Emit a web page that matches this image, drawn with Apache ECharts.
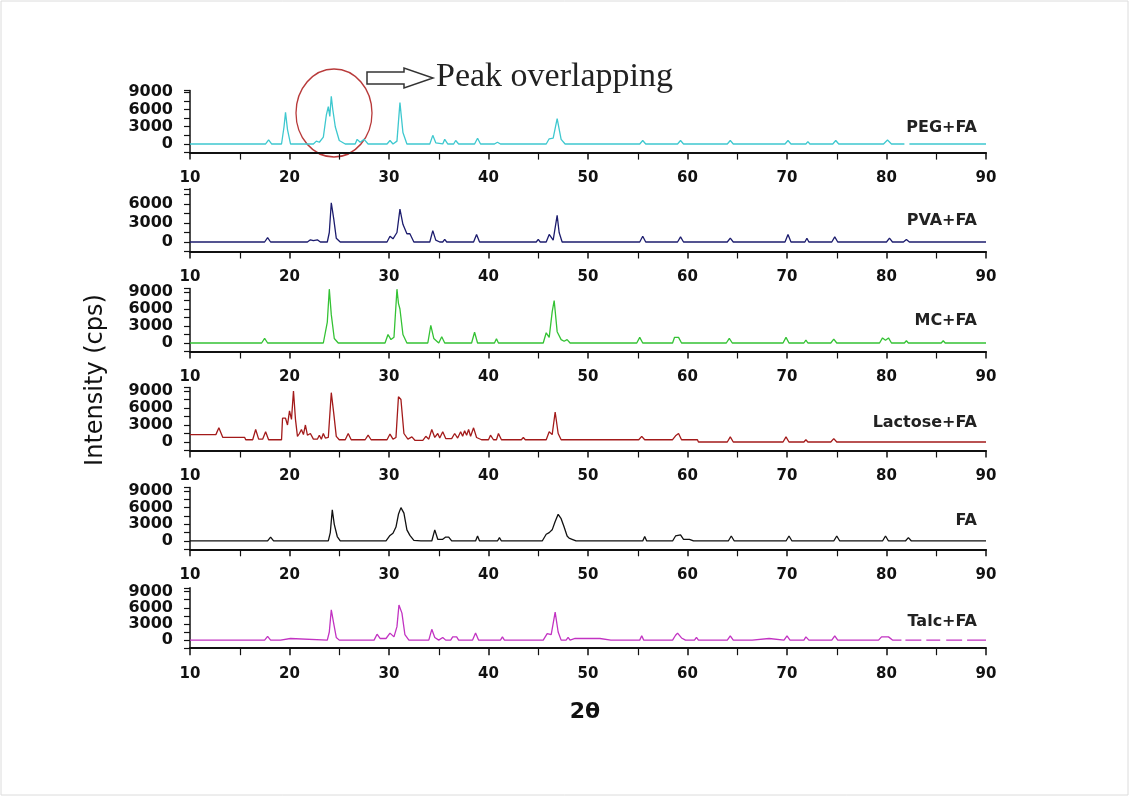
<!DOCTYPE html>
<html>
<head>
<meta charset="utf-8">
<script src="https://cdn.jsdelivr.net/npm/echarts@6/dist/echarts.min.js"></script>
<style>
html,body{margin:0;padding:0;background:#fff;}
#chart{width:1129px;height:796px;}
</style>
</head>
<body>
<div id="chart"></div>
<script>
// ---- data: [2theta, intensity (cps)] ----
const seriesNames = ['PEG+FA', 'PVA+FA', 'MC+FA', 'Lactose+FA', 'FA', 'Talc+FA'];
const xTicks = [10, 20, 30, 40, 50, 60, 70, 80, 90];
const yTickLabels = [0, 3000, 6000, 9000];

const pegFA = [[10,0],[17.6,0],[17.9,700],[18.2,0],[19.2,0],[19.45,3000],[19.6,5500],[19.8,2500],[20.1,0],[22.4,0],[22.7,500],[23.0,300],[23.4,1200],[23.7,5000],[23.9,6500],[24.05,4800],[24.2,8300],[24.35,6000],[24.6,3000],[25.0,600],[25.6,0],[26.6,0],[26.8,800],[27.1,300],[27.5,800],[27.9,0],[29.8,0],[30.1,600],[30.4,0],[30.8,500],[31.1,7200],[31.4,2000],[31.8,0],[34.1,0],[34.4,1500],[34.7,200],[35.4,0],[35.6,800],[35.9,0],[36.5,0],[36.7,600],[37.0,0],[38.6,0],[38.9,1000],[39.2,0],[40.1,0],[40.3,300],[40.6,0],[40.9,300],[41.2,0],[45.8,0],[46.1,900],[46.5,1000],[46.9,4400],[47.3,800],[47.7,0],[55.2,0],[55.5,600],[55.8,0],[59.0,0],[59.3,600],[59.6,0],[64.0,0],[64.3,600],[64.6,0],[69.8,0],[70.1,600],[70.4,0],[71.9,0],[72.1,400],[72.3,0],[74.6,0],[74.9,600],[75.2,0],[79.7,0],[80.1,700],[80.5,0],[81.8,0],[82.0,null],[82.3,0],[90,0]];

const pvaFA = [[10,0],[17.5,0],[17.8,700],[18.1,0],[21.8,0],[22.1,350],[22.4,200],[22.8,350],[23.1,0],[23.8,0],[24.0,1500],[24.2,6200],[24.45,3600],[24.7,600],[25.1,0],[29.8,0],[30.1,900],[30.4,500],[30.8,1500],[31.1,5200],[31.4,2800],[31.8,1300],[32.1,1300],[32.5,0],[34.1,0],[34.4,1800],[34.7,300],[35.1,0],[35.4,0],[35.6,400],[35.8,0],[37.0,0],[37.2,300],[37.4,0],[38.5,0],[38.8,1200],[39.1,0],[40.8,0],[41.0,300],[41.2,0],[44.8,0],[45.0,400],[45.2,0],[45.8,0],[46.1,1200],[46.5,300],[46.9,4200],[47.1,1500],[47.4,0],[55.2,0],[55.5,900],[55.8,0],[59.0,0],[59.3,800],[59.6,0],[59.9,0],[60.1,300],[60.3,0],[64.0,0],[64.3,600],[64.6,0],[69.8,0],[70.1,1200],[70.4,0],[71.8,0],[72.0,600],[72.2,0],[74.5,0],[74.8,800],[75.1,0],[80.0,0],[80.3,600],[80.6,0],[81.7,0],[82.0,400],[82.3,0],[85.5,0],[85.7,300],[85.9,0],[90,0]];

const mcFA = [[10,0],[17.2,0],[17.5,800],[17.8,0],[23.4,0],[23.8,3700],[24.0,9500],[24.2,5000],[24.5,800],[24.9,0],[29.6,0],[29.9,1500],[30.2,600],[30.5,1000],[30.8,9500],[30.95,7000],[31.1,6000],[31.4,1500],[31.8,0],[33.9,0],[34.2,3100],[34.5,800],[35.0,0],[35.3,1100],[35.6,0],[38.3,0],[38.6,1900],[38.9,0],[40.6,0],[40.8,750],[41.0,0],[45.5,0],[45.8,1800],[46.1,1000],[46.4,5500],[46.6,7500],[46.9,2000],[47.3,600],[47.6,300],[47.9,600],[48.2,0],[49.0,0],[49.2,300],[49.4,0],[54.9,0],[55.2,1000],[55.5,0],[58.5,0],[58.7,1000],[58.9,700],[59.1,1000],[59.4,0],[59.9,0],[60.1,300],[60.3,0],[63.9,0],[64.2,800],[64.5,0],[69.6,0],[69.9,1000],[70.2,0],[71.7,0],[71.9,500],[72.1,0],[74.4,0],[74.7,700],[75.0,0],[79.3,0],[79.6,900],[79.9,500],[80.2,900],[80.5,0],[81.8,0],[82.0,400],[82.2,0],[85.5,0],[85.7,400],[85.9,0],[90,0]];

const lactoseFA = [[10,1300],[12.6,1300],[12.9,2500],[13.3,800],[15.5,800],[15.6,400],[16.3,400],[16.6,2200],[16.9,500],[17.3,500],[17.6,1800],[17.9,400],[19.2,400],[19.3,4200],[19.6,4200],[19.8,3000],[20.0,5500],[20.2,4000],[20.4,9000],[20.6,4000],[20.8,1000],[21.0,1500],[21.2,2200],[21.4,1300],[21.6,3000],[21.8,1200],[22.1,1500],[22.4,500],[22.8,500],[23.0,1200],[23.2,500],[23.4,1500],[23.6,700],[23.9,800],[24.2,8700],[24.45,5000],[24.7,1000],[25.0,400],[25.6,400],[25.9,1500],[26.2,400],[27.6,400],[27.9,1200],[28.2,400],[29.8,400],[30.1,1400],[30.4,500],[30.7,800],[30.95,8000],[31.2,7500],[31.5,1500],[31.9,500],[32.3,900],[32.6,300],[33.4,300],[33.7,1000],[34.0,500],[34.3,2200],[34.6,800],[34.9,1500],[35.1,700],[35.4,1800],[35.7,600],[36.3,600],[36.6,1500],[36.9,700],[37.2,1800],[37.4,1000],[37.6,2000],[37.8,1200],[38.0,2200],[38.2,1000],[38.5,2500],[38.8,800],[39.3,400],[40.0,400],[40.2,1200],[40.5,400],[40.8,400],[41.0,1500],[41.3,400],[43.3,400],[43.5,800],[43.7,400],[45.8,400],[46.1,1800],[46.4,1300],[46.7,5300],[47.0,1500],[47.3,400],[50.5,400],[50.7,700],[50.9,400],[52.2,400],[52.4,700],[52.6,400],[55.1,400],[55.4,1000],[55.7,400],[58.5,400],[58.8,1100],[58.95,800],[59.1,1500],[59.4,400],[61.0,400],[61.1,0],[64.0,0],[64.3,900],[64.6,0],[69.6,0],[69.9,900],[70.2,0],[71.7,0],[71.9,400],[72.1,0],[74.4,0],[74.7,600],[75.0,0],[76.8,0],[77.0,200],[77.2,0],[79.8,0],[80.0,300],[80.2,0],[81.8,0],[82.0,300],[82.2,0],[85.5,0],[85.7,200],[85.9,0],[90,0]];

const fa = [[10,0],[17.8,0],[18.1,700],[18.4,0],[23.9,0],[24.1,1500],[24.3,5600],[24.5,3000],[24.8,800],[25.1,0],[26.4,0],[26.6,300],[26.8,0],[29.7,0],[30.1,1000],[30.4,1400],[30.7,2500],[30.95,4800],[31.2,6000],[31.5,5000],[31.8,2000],[32.1,1000],[32.5,100],[33.2,0],[34.3,0],[34.6,2000],[34.9,300],[35.4,300],[35.7,700],[36.0,700],[36.3,0],[38.7,0],[38.9,900],[39.1,0],[40.9,0],[41.1,600],[41.3,0],[45.4,0],[45.8,1200],[46.1,1500],[46.4,2000],[46.7,3500],[47.0,4800],[47.3,4000],[47.6,2500],[47.9,900],[48.1,500],[48.4,300],[48.6,300],[48.8,0],[54.3,0],[54.5,200],[54.7,0],[55.5,0],[55.7,800],[55.9,0],[58.5,0],[58.8,900],[59.0,800],[59.3,1100],[59.6,300],[60.2,300],[60.4,300],[60.6,0],[64.1,0],[64.4,900],[64.7,0],[69.9,0],[70.2,900],[70.5,0],[71.8,0],[72.0,300],[72.2,0],[74.7,0],[75.0,900],[75.3,0],[79.6,0],[79.9,900],[80.2,0],[81.9,0],[82.2,600],[82.5,0],[85.8,0],[86.0,300],[86.2,0],[90,0]];

const talcFA = [[10,0],[17.5,0],[17.8,700],[18.1,0],[19.1,0],[19.3,300],[20.1,300],[20.3,0],[23.8,0],[24.0,1500],[24.2,5600],[24.45,3000],[24.7,500],[25.0,0],[26.9,0],[27.1,300],[27.4,0],[28.5,0],[28.8,1100],[29.1,300],[29.7,300],[30.1,1300],[30.5,600],[30.8,2500],[31.0,6500],[31.3,5000],[31.6,1000],[32.0,0],[34.0,0],[34.3,2000],[34.6,500],[35.0,0],[35.4,500],[35.7,0],[36.2,0],[36.4,600],[36.8,600],[37.0,0],[38.4,0],[38.7,1300],[39.0,0],[41.2,0],[41.4,600],[41.6,0],[43.2,0],[43.4,300],[43.6,0],[45.5,0],[45.9,1200],[46.3,1000],[46.7,5200],[47.0,1500],[47.3,0],[47.8,0],[48.0,500],[48.2,0],[48.7,300],[49.4,300],[49.6,0],[50.5,300],[51.2,300],[51.4,0],[52.3,0],[52.5,200],[52.7,0],[55.2,0],[55.4,800],[55.6,0],[58.5,0],[58.8,900],[59.0,1300],[59.4,400],[59.8,0],[60.7,0],[60.9,500],[61.1,0],[64.0,0],[64.3,800],[64.6,0],[66.5,0],[66.7,300],[68.2,300],[68.4,0],[69.7,0],[70.0,800],[70.3,0],[71.7,0],[71.9,600],[72.2,0],[74.5,0],[74.8,800],[75.1,0],[79.2,0],[79.5,600],[80.2,600],[80.6,0],[81.5,0],[81.6,null],[81.9,0],[83.5,0],[83.6,null],[84.0,0],[85.4,0],[85.5,null],[86.0,0],[87.6,0],[87.7,null],[88.1,0],[90,0]];

const seriesData = [pegFA, pvaFA, mcFA, lactoseFA, fa, talcFA];
const yMax = [9300, 8400, 9600, 9600, 9600, 9700];

// ---- layout / style (not data) ----
const colors = ['#3ec8cf', '#1c1c6e', '#34c234', '#a31a1a', '#111111', '#c233c2'];
const gridTop = [90.5, 188.8, 288.6, 387.6, 487.6, 587.8];
const gridBottomY = [152.6, 251.5, 351.5, 450.5, 549.3, 648.2];
const labelY = [128, 221, 321, 423, 521, 622];
const W = 1129, H = 796;

const grids = [], xAxes = [], yAxes = [], series = [], graphics = [];
for (let i = 0; i < 6; i++) {
  grids.push({left: 190, right: W - 986, top: gridTop[i], height: gridBottomY[i] - gridTop[i], containLabel: false});
  xAxes.push({
    type: 'value', gridIndex: i, min: xTicks[0], max: xTicks[xTicks.length - 1], interval: 10,
    axisLine: {show: true, onZero: false, lineStyle: {color: '#111', width: 2}},
    axisTick: {show: true, inside: false, length: 7, lineStyle: {color: '#111', width: 1.5}},
    minorTick: {show: true, splitNumber: 2, length: 7, lineStyle: {color: '#111', width: 1.2}},
    axisLabel: {show: true, margin: 18, fontFamily: 'DejaVu Sans', fontWeight: 'bold', fontSize: 15, color: '#111',
      formatter: v => xTicks.indexOf(v) >= 0 ? String(v) : ''},
    splitLine: {show: false}
  });
  yAxes.push({
    type: 'value', gridIndex: i, min: -1500, max: yMax[i], interval: 1500,
    axisLine: {show: true, onZero: false, lineStyle: {color: '#111', width: 1.5}},
    axisTick: {show: true, inside: false, length: 6, lineStyle: {color: '#111', width: 1.2}},
    axisLabel: {show: true, margin: 17, fontFamily: 'DejaVu Sans', fontWeight: 'bold', fontSize: 16, color: '#111',
      formatter: v => yTickLabels.indexOf(v) >= 0 ? String(v) : ''},
    splitLine: {show: false}
  });
  series.push({
    name: seriesNames[i], type: 'line', xAxisIndex: i, yAxisIndex: i,
    data: seriesData[i], showSymbol: false, symbol: 'none', connectNulls: false,
    lineStyle: {color: colors[i], width: 1.3}, itemStyle: {color: colors[i]},
    animation: false, silent: true
  });
  graphics.push({
    type: 'text', x: 977, y: labelY[i],
    style: {text: seriesNames[i], fill: '#222', font: 'bold 16px "DejaVu Sans"', textAlign: 'right', textVerticalAlign: 'middle'}
  });
}

graphics.push(
  {type: 'rect', shape: {x: 1, y: 1, width: W - 2, height: H - 2}, style: {fill: 'none', stroke: '#dcdcdc', lineWidth: 1}},
  {type: 'text', x: 96, y: 380, rotation: Math.PI / 2,
    style: {text: 'Intensity (cps)', fill: '#111', font: '24px "DejaVu Sans"', textAlign: 'center', textVerticalAlign: 'middle'}},
  {type: 'text', x: 585, y: 712,
    style: {text: '2θ', fill: '#111', font: 'bold 22px "DejaVu Sans"', textAlign: 'center', textVerticalAlign: 'middle'}},
  {type: 'text', x: 436, y: 77,
    style: {text: 'Peak overlapping', fill: '#222', font: '34px "Liberation Serif"', textAlign: 'left', textVerticalAlign: 'middle'}},
  {type: 'polygon', shape: {points: [[367, 72], [404, 72], [404, 68], [433, 78], [404, 88], [404, 84], [367, 84]]},
    style: {fill: '#fff', stroke: '#333', lineWidth: 1.5}},
  {type: 'circle', x: 334, y: 113, scaleX: 38 / 44, scaleY: 1, shape: {cx: 0, cy: 0, r: 44},
    style: {fill: 'none', stroke: '#b83a3a', lineWidth: 1.5, strokeNoScale: true}}
);

const chart = echarts.init(document.getElementById('chart'), null, {renderer: 'canvas'});
chart.setOption({
  backgroundColor: '#fff',
  animation: false,
  grid: grids, xAxis: xAxes, yAxis: yAxes, series: series,
  graphic: {elements: graphics}
});
</script>
</body>
</html>
